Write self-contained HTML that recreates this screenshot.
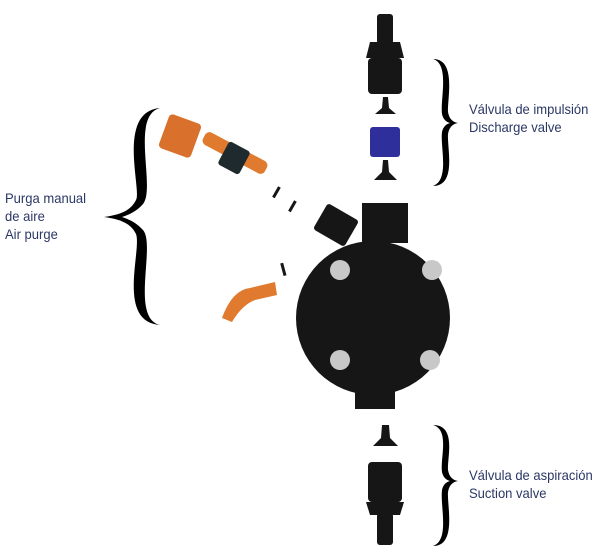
<!DOCTYPE html>
<html><head><meta charset="utf-8"><style>
body{margin:0;background:#fff;width:606px;height:559px;overflow:hidden;position:relative;font-family:"Liberation Sans Narrow","Liberation Sans",sans-serif}
.t{position:absolute;color:#2b3866;font-size:14px;line-height:18px;transform:scaleX(.93);transform-origin:left top}
</style></head><body>
<svg width="606" height="559" style="position:absolute;left:0;top:0">
<g fill="#161616">
<rect x="377" y="14" width="16" height="30" rx="3"/>
<path d="M370 42 L400 42 L404 58 L366 58 Z"/>
<rect x="368" y="58" width="34" height="36" rx="4"/>
<path d="M383 97 L388 97 L389 108 L396 114 L375 114 L382 108 Z"/>
<path d="M383 160 L388 160 L389 172 L397 180 L374 180 L382 172 Z"/>
<path d="M382 425 L389 425 L390 438 L398 446 L373 446 L381 438 Z"/>
<rect x="368" y="462" width="34" height="40" rx="4"/>
<path d="M366 502 L404 502 L400 515 L370 515 Z"/>
<rect x="377" y="513" width="16" height="32" rx="3"/>
<rect x="362" y="203" width="46" height="40"/>
<circle cx="373" cy="318" r="77"/>
<rect x="355" y="385" width="40" height="24"/>
<rect x="318" y="210" width="36" height="30" rx="3" transform="rotate(30 336 225)"/>
<rect x="275" y="186" width="3" height="12" transform="rotate(30 276 192)"/>
<rect x="291" y="200" width="3" height="12" transform="rotate(30 292 206)"/>
<rect x="282" y="263" width="3" height="13" transform="rotate(-15 283 270)"/>
</g>
<rect x="370" y="127" width="30" height="30" rx="3" fill="#2e2f9a"/>
<g fill="#c8c8c8"><circle cx="340" cy="270" r="10"/><circle cx="432" cy="270" r="10"/><circle cx="340" cy="360" r="10"/><circle cx="430" cy="360" r="10"/></g>
<rect x="163" y="118" width="34" height="36" rx="4" fill="#d9712c" transform="rotate(20 180 136)"/>
<rect x="200" y="146" width="70" height="14" rx="5" fill="#e07a2e" transform="rotate(28 235 153)"/>
<rect x="222" y="145" width="24" height="26" rx="3" fill="#1e2a2e" transform="rotate(28 234 158)"/>
<path d="M222 318 Q232 290 250 288 L275 282 L277 295 L255 300 Q242 305 232 322 Z" fill="#e07a2e"/>
<path d="M160 108 C116 112 142 190 136 200 C130 212 118 215 104 217 C118 219 130 222 136 234 C142 250 116 322 160 325 C130 318 156 245 143 230 C136 222 128 219 122 217 C128 215 136 212 143 204 C156 188 130 116 160 108 Z" fill="#000"/>
<path d="M433 59 C457 59 447 100 448 112 C449 118 452 122 458 123 C452 124 449 128 448 134 C447 148 457 186 433 186 C450 180 440 146 442 132 C443 127 446 124 450 123 C446 122 443 119 442 114 C440 100 450 64 433 59 Z" fill="#000"/>
<path d="M433 425 C457 425 447 458 448 470 C449 476 452 480 458 481 C452 482 449 486 448 492 C447 506 457 546 433 546 C450 540 440 506 442 490 C443 485 446 482 450 481 C446 480 443 477 442 472 C440 458 450 430 433 425 Z" fill="#000"/>
</svg>
<div class="t" style="left:5px;top:189px">Purga manual<br>de aire<br>Air purge</div>
<div class="t" style="left:469px;top:100px">Válvula de impulsión<br>Discharge valve</div>
<div class="t" style="left:469px;top:466px">Válvula de aspiración<br>Suction valve</div>
</body></html>
